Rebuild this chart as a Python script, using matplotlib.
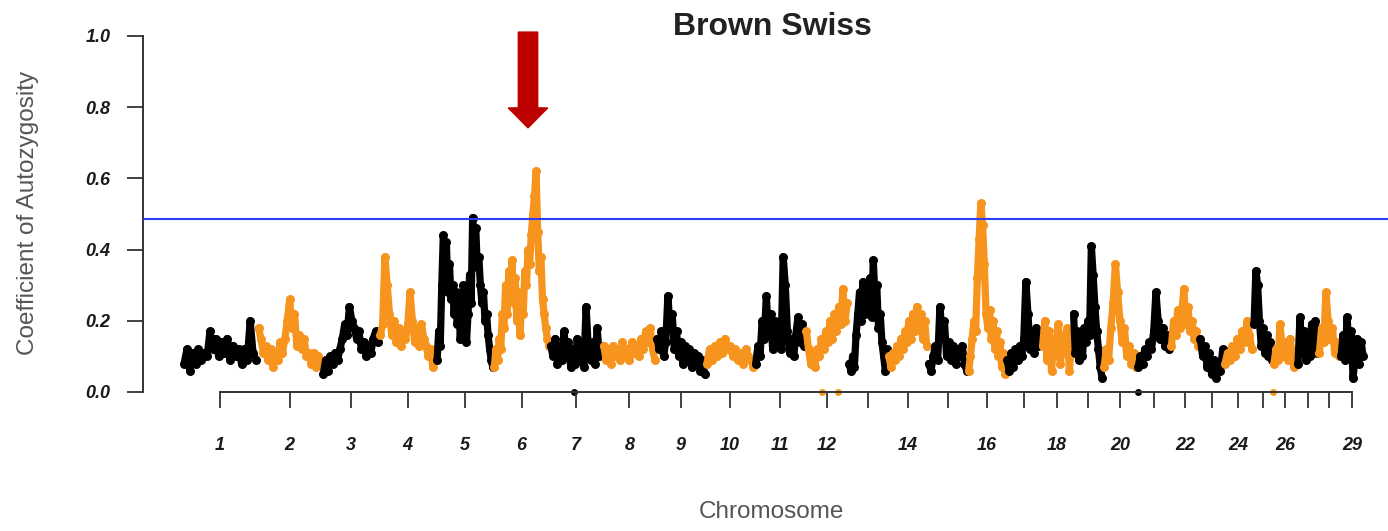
import matplotlib
matplotlib.use("Agg")
import matplotlib.pyplot as plt
from matplotlib.patches import Polygon
import numpy as np

# autosome lengths in Mb (bovine chr 1-29)
chrom_len = [158, 137, 121, 121, 121, 119, 112, 113, 105, 104, 107, 91, 84, 84,
             85, 81, 75, 66, 64, 72, 71, 61, 52, 62, 42, 51, 45, 46, 51]

# FROH-style autozygosity along each chromosome (left to right)
chr1 = [0.08, 0.12, 0.06, 0.11, 0.08, 0.12, 0.09, 0.11, 0.10, 0.17, 0.12, 0.15, 0.10,
        0.14, 0.11, 0.15, 0.09, 0.13, 0.10, 0.12, 0.08, 0.12, 0.09, 0.20, 0.11, 0.09]
chr2 = [0.18, 0.15, 0.11, 0.13, 0.09, 0.12, 0.07, 0.11, 0.09, 0.14, 0.11, 0.15, 0.20,
        0.26, 0.18, 0.22, 0.13, 0.16, 0.12, 0.15, 0.10, 0.11, 0.08, 0.11, 0.07, 0.10, 0.08]
chr3 = [0.05, 0.09, 0.06, 0.10, 0.08, 0.11, 0.09, 0.12, 0.15, 0.19, 0.16, 0.24, 0.20,
        0.18, 0.15, 0.17, 0.12, 0.14, 0.10, 0.13, 0.11, 0.15, 0.17, 0.14]
chr4 = [0.16, 0.19, 0.38, 0.30, 0.22, 0.16, 0.20, 0.14, 0.18, 0.13, 0.17, 0.15, 0.19,
        0.28, 0.20, 0.14, 0.18, 0.13, 0.19, 0.15, 0.13, 0.10, 0.12, 0.07, 0.09]
chr5 = [0.09, 0.17, 0.13, 0.30, 0.44, 0.38, 0.42, 0.28, 0.36, 0.26, 0.30, 0.22, 0.28,
        0.19, 0.25, 0.15, 0.24, 0.30, 0.20, 0.14, 0.22, 0.33, 0.25, 0.49, 0.40, 0.46,
        0.35, 0.38, 0.30, 0.25, 0.28, 0.20, 0.22, 0.16, 0.12, 0.09, 0.07]
chr6 = [0.07, 0.12, 0.09, 0.15, 0.12, 0.22, 0.18, 0.30, 0.22, 0.34, 0.26, 0.37, 0.25,
        0.32, 0.20, 0.28, 0.16, 0.26, 0.22, 0.34, 0.30, 0.40, 0.36, 0.44, 0.50, 0.55,
        0.62, 0.45, 0.34, 0.38, 0.26, 0.22, 0.18, 0.15, 0.13]
chr7 = [0.13, 0.10, 0.15, 0.08, 0.13, 0.09, 0.17, 0.10, 0.14, 0.07, 0.12, 0.08, 0.15,
        0.09, 0.12, 0.07, 0.24, 0.12, 0.09, 0.14, 0.08, 0.18, 0.10, 0.13]
chr8 = [0.13, 0.09, 0.12, 0.08, 0.13, 0.10, 0.12, 0.09, 0.14, 0.10, 0.12, 0.09, 0.14,
        0.11, 0.13, 0.10, 0.15, 0.12, 0.17, 0.14, 0.18, 0.12, 0.09]
chr9 = [0.15, 0.12, 0.17, 0.10, 0.14, 0.27, 0.18, 0.22, 0.12, 0.17, 0.10, 0.14, 0.08,
        0.13, 0.09, 0.12, 0.07, 0.11, 0.08, 0.10, 0.06, 0.09, 0.05]
chr10 = [0.08, 0.12, 0.09, 0.13, 0.10, 0.14, 0.11, 0.15, 0.12, 0.13, 0.10, 0.12, 0.09,
         0.11, 0.08, 0.12, 0.10, 0.09, 0.07]
chr11 = [0.08, 0.13, 0.10, 0.20, 0.15, 0.27, 0.16, 0.22, 0.12, 0.20, 0.14, 0.18, 0.12,
         0.38, 0.30, 0.17, 0.11, 0.15, 0.10, 0.16, 0.21, 0.14, 0.19, 0.13]
chr12 = [0.17, 0.12, 0.08, 0.10, 0.07, 0.12, 0.10, 0.15, 0.12, 0.17, 0.14, 0.20, 0.15,
         0.22, 0.17, 0.24, 0.19, 0.29, 0.20, 0.25]
chr13 = [0.08, 0.06, 0.10, 0.07, 0.16, 0.22, 0.28, 0.20, 0.31, 0.22, 0.30, 0.24, 0.32,
         0.21, 0.37, 0.26, 0.30, 0.18, 0.22, 0.14, 0.10, 0.06, 0.12]
chr14 = [0.10, 0.07, 0.11, 0.09, 0.13, 0.10, 0.15, 0.12, 0.17, 0.14, 0.20, 0.15, 0.22,
         0.17, 0.24, 0.19, 0.22, 0.15, 0.20, 0.13]
chr15 = [0.08, 0.06, 0.10, 0.13, 0.09, 0.24, 0.16, 0.20, 0.10, 0.14, 0.09, 0.13, 0.08,
         0.12, 0.10, 0.13, 0.08, 0.06]
chr16 = [0.06, 0.10, 0.15, 0.20, 0.17, 0.32, 0.43, 0.53, 0.47, 0.36, 0.22, 0.18, 0.23,
         0.15, 0.20, 0.12, 0.17, 0.10, 0.14, 0.07, 0.11, 0.05]
chr17 = [0.09, 0.06, 0.11, 0.07, 0.12, 0.09, 0.13, 0.10, 0.15, 0.31, 0.22, 0.12, 0.16,
         0.11, 0.18, 0.13, 0.16]
chr18 = [0.13, 0.20, 0.09, 0.17, 0.06, 0.15, 0.10, 0.19, 0.08, 0.16, 0.11, 0.18, 0.06, 0.14]
chr19 = [0.22, 0.11, 0.17, 0.09, 0.15, 0.10, 0.18, 0.14, 0.20, 0.16, 0.41, 0.33, 0.24,
         0.17, 0.12, 0.07, 0.04]
chr20 = [0.07, 0.12, 0.09, 0.18, 0.25, 0.36, 0.28, 0.20, 0.14, 0.18, 0.10, 0.13, 0.08,
         0.11, 0.07]
chr21 = [0.07, 0.10, 0.08, 0.12, 0.10, 0.14, 0.12, 0.17, 0.28, 0.20, 0.15, 0.18, 0.13,
         0.16, 0.12]
chr22 = [0.13, 0.20, 0.16, 0.23, 0.18, 0.22, 0.29, 0.19, 0.24, 0.17, 0.20, 0.15, 0.17, 0.13]
chr23 = [0.15, 0.10, 0.13, 0.07, 0.11, 0.05, 0.09, 0.04, 0.08, 0.06, 0.12]
chr24 = [0.08, 0.11, 0.09, 0.13, 0.10, 0.15, 0.12, 0.17, 0.14, 0.20, 0.16, 0.12]
chr25 = [0.19, 0.34, 0.30, 0.20, 0.13, 0.18, 0.11, 0.16, 0.10, 0.14, 0.09]
chr26 = [0.08, 0.12, 0.09, 0.19, 0.13, 0.10, 0.14, 0.09, 0.15, 0.11, 0.07, 0.10]
chr27 = [0.08, 0.21, 0.12, 0.17, 0.09, 0.15, 0.10, 0.19, 0.12, 0.20, 0.11]
chr28 = [0.11, 0.18, 0.14, 0.28, 0.20, 0.15, 0.18, 0.11, 0.14, 0.10]
chr29 = [0.10, 0.16, 0.09, 0.21, 0.12, 0.17, 0.04, 0.10, 0.15, 0.08, 0.14, 0.10]

froh = [chr1, chr2, chr3, chr4, chr5, chr6, chr7, chr8, chr9, chr10, chr11, chr12,
        chr13, chr14, chr15, chr16, chr17, chr18, chr19, chr20, chr21, chr22, chr23,
        chr24, chr25, chr26, chr27, chr28, chr29]

# SNPs with zero autozygosity: (chromosome, relative position)
zero_hits = [(7, 0.45), (12, 0.40), (12, 0.75), (21, 0.02), (26, 0.02)]

threshold = 0.486
labelled = [1, 2, 3, 4, 5, 6, 7, 8, 9, 10, 11, 12, 14, 16, 18, 20, 22, 24, 26, 29]

colors = ["#000000", "#F7941E"]

starts = np.concatenate([[0], np.cumsum(chrom_len)[:-1]])
mids = starts + np.array(chrom_len) / 2

fig = plt.figure(figsize=(13.88, 5.31), dpi=100)
ax = fig.add_axes([143 / 1388, 139 / 531, 1245 / 1388, 356 / 531])

for i, vals in enumerate(froh):
    n = len(vals)
    xs = starts[i] + (np.arange(n) + 0.5) / n * chrom_len[i]
    ax.plot(xs, vals, color=colors[i % 2], lw=5.2, marker="o", ms=6.5, mew=0,
            solid_joinstyle="round", solid_capstyle="round", zorder=3)

for c, f in zero_hits:
    ax.plot(starts[c - 1] + f * chrom_len[c - 1], 0, "o", ms=5, mew=0,
            color=colors[(c - 1) % 2], clip_on=False, zorder=1)

ax.axhline(threshold, color="#2F3BF5", lw=1.5, zorder=4)

ax.set_xlim(-84, 2551.5)
ax.set_ylim(0, 1)

for s in ["top", "right"]:
    ax.spines[s].set_visible(False)
for s in ["left", "bottom"]:
    ax.spines[s].set_color("#333333")
    ax.spines[s].set_linewidth(1.4)
ax.spines["left"].set_bounds(0, 1)
ax.spines["bottom"].set_bounds(mids[0], mids[-1])
ax.spines["bottom"].set_zorder(2)

ax.set_yticks([0, 0.2, 0.4, 0.6, 0.8, 1.0])
ax.set_yticklabels(["0.0", "0.2", "0.4", "0.6", "0.8", "1.0"])
ax.set_xticks(mids)
ax.set_xticklabels([str(k + 1) if (k + 1) in labelled else "" for k in range(29)])

tick_font = dict(family="Liberation Sans", style="italic", weight="bold", size=13,
                 color="#1a1a1a")
for lab in ax.get_xticklabels() + ax.get_yticklabels():
    lab.set(**tick_font)
ax.tick_params(axis="y", length=11.5, width=1.3, color="#333333", pad=12)
ax.tick_params(axis="x", length=11.5, width=1.3, color="#333333", pad=21)

fig.text(28 / 1388, 1 - 213 / 531, "Coefficient of Autozygosity", rotation=90,
         ha="center", va="center", family="Liberation Sans", size=17.5, color="#555555")
fig.text(771 / 1388, 1 - 518 / 531, "Chromosome", ha="center", va="baseline",
         family="Liberation Sans", size=17.5, color="#555555")
fig.text(772 / 1388, 1 - 35 / 531, "Brown Swiss", ha="center", va="baseline",
         family="Liberation Sans", weight="bold", size=23, color="#222222")

# red arrow over the chr6 peak
ax_x, sw, hw = 731, 20.5, 41.7
arrow = Polygon([(ax_x - sw, 1.011), (ax_x + sw, 1.011), (ax_x + sw, 0.798),
                 (ax_x + hw, 0.798), (ax_x, 0.742), (ax_x - hw, 0.798),
                 (ax_x - sw, 0.798)], closed=True, color="#BE0000", clip_on=False,
                zorder=5)
ax.add_patch(arrow)

fig.savefig("out.png", dpi=100)
